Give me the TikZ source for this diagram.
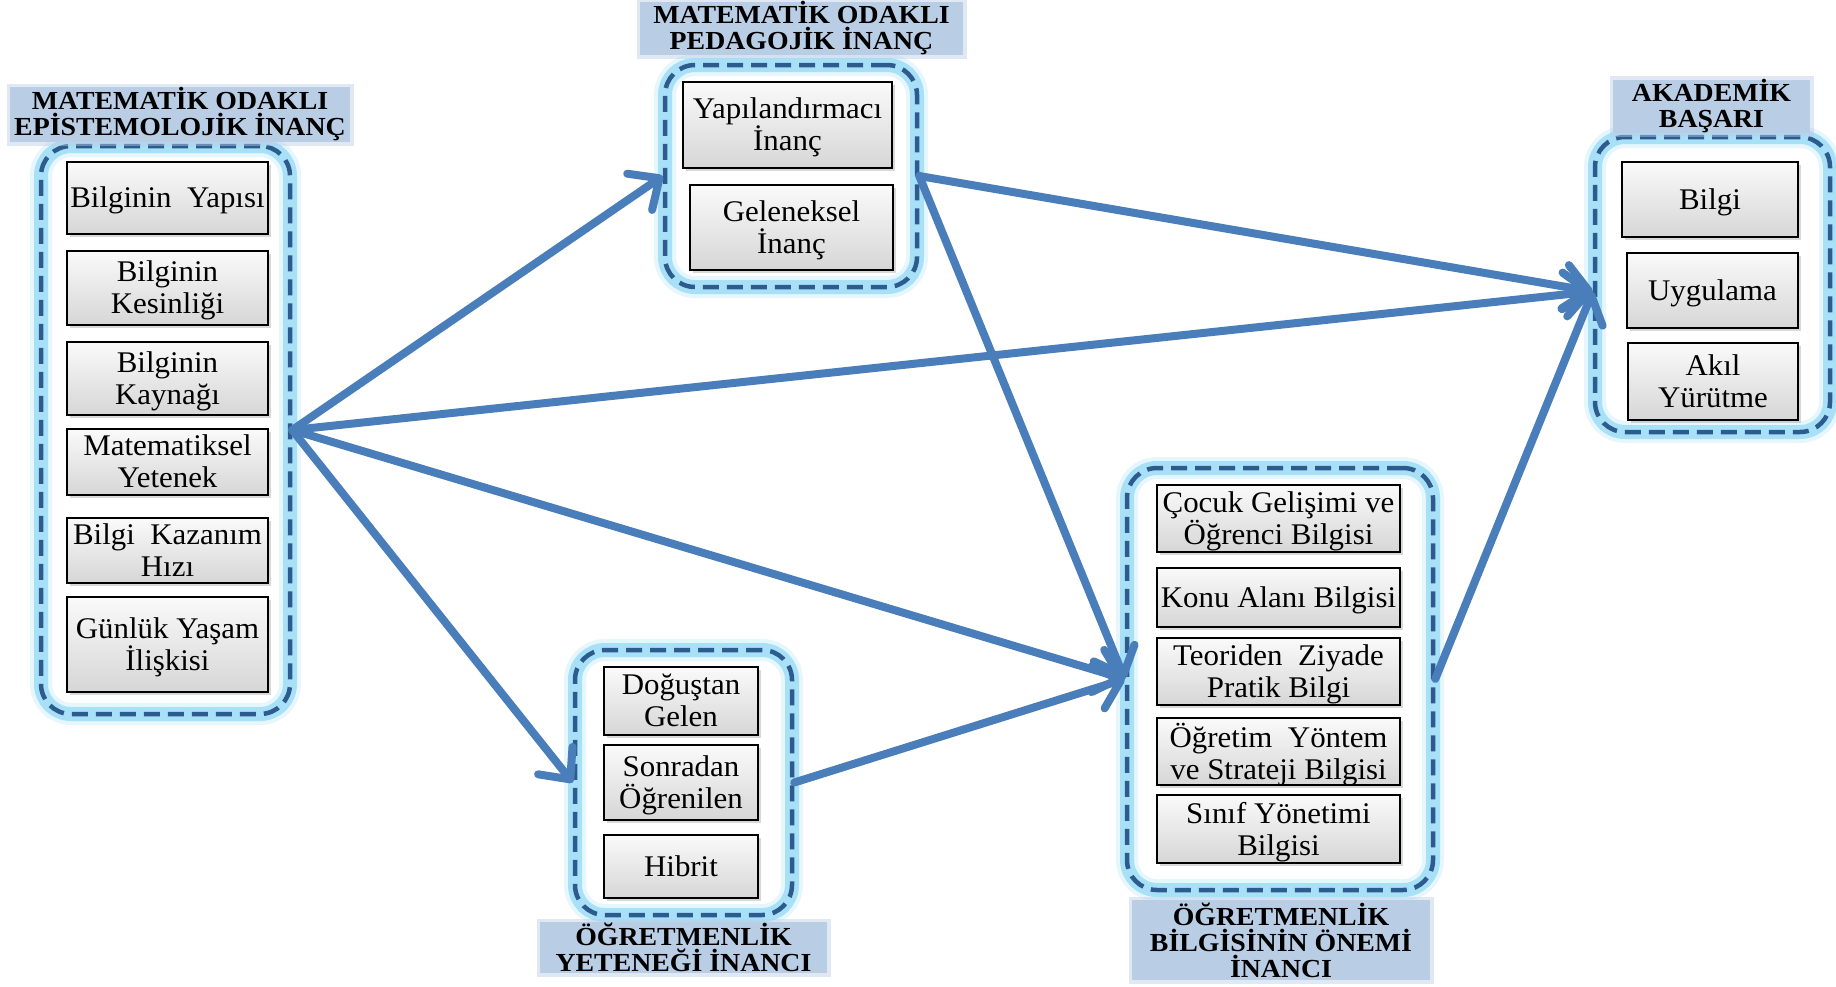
\documentclass[tikz,border=0pt]{standalone}
\usepackage{fontspec}
\setmainfont{Liberation Serif}[FakeStretch=1.03]
\newfontfamily\headfont{Liberation Serif}[FakeStretch=1.07]
\usetikzlibrary{arrows.meta,shadows,calc}
\definecolor{flowblue}{HTML}{4A7EBB}
\definecolor{dashblue}{HTML}{2E5B8E}
\definecolor{glowcyan}{HTML}{80D2F6}
\definecolor{headbg}{HTML}{B9CDE5}

\begin{document}
\begin{tikzpicture}[x=1pt,y=-1pt,
  group/.style={draw=dashblue, line width=4.5pt, dash pattern=on 16pt off 8pt,
    rounded corners=30pt, inner sep=0pt,
    preaction={draw=glowcyan, solid, line width=22pt, opacity=.2},
    preaction={draw=glowcyan, solid, line width=14pt, opacity=.6}},
  item/.style={draw=black, line width=1.8pt, top color=gray!4, bottom color=gray!32,
    align=center, inner sep=1pt, text depth=1pt, font=\fontsize{30}{32}\selectfont,
    drop shadow={shadow xshift=3pt, shadow yshift=-3pt, opacity=.3}},
  head/.style={fill=headbg, inner sep=0pt, align=center,
    font=\headfont\bfseries\fontsize{26}{26}\selectfont,
    preaction={draw=headbg, line width=7pt, opacity=.45}},
  flow/.style={draw=flowblue, line width=8pt, line cap=round,
    -{Straight Barb[length=24pt,width=44pt,round]}}]

\fill[white] (0,0) rectangle (1836,986);
\useasboundingbox (0,0) rectangle (1836,986);

% group frames
\node[group, minimum width=249, minimum height=568] (G1) at (165.5,430) {};
\node[group, minimum width=252, minimum height=222] (G2) at (791,176) {};
\node[group, minimum width=235, minimum height=295] (G3) at (1712.5,284.5) {};
\node[group, minimum width=306, minimum height=422] (G4) at (1280,679) {};
\node[group, minimum width=217, minimum height=265] (G5) at (683.5,782.5) {};

% group headings
\node[head, minimum width=340, minimum height=55] (T1) at (180,114.5)
  {MATEMATİK ODAKLI\\EPİSTEMOLOJİK İNANÇ};
\node[head, minimum width=323, minimum height=49] (T2) at (801.5,28.5)
  {MATEMATİK ODAKLI\\PEDAGOJİK İNANÇ};
\node[head, minimum width=197, minimum height=47] (T3) at (1711.5,106.5)
  {AKADEMİK\\BAŞARI};
\node[head, minimum width=298, minimum height=80] (T4) at (1281,940)
  {ÖĞRETMENLİK\\BİLGİSİNİN ÖNEMİ\\İNANCI};
\node[head, minimum width=287, minimum height=51] (T5) at (683.5,947.5)
  {ÖĞRETMENLİK\\YETENEĞİ İNANCI};

% connectors
\coordinate (G3in) at ([yshift=-7pt]G3.west);
\draw[flow] (G1.east) -- (G2.west);
\draw[flow] (G1.east) -- (G3in);
\draw[flow] (G1.east) -- (G4.west);
\draw[flow] (G1.east) -- (G5.west);
\draw[flow] (G2.east) -- (G3in);
\draw[flow] (G2.east) -- (G4.west);
\draw[flow] (G5.east) -- (G4.west);
\draw[flow] (G4.east) -- (G3in);

% epistemological belief items
\node[item, minimum width=201, minimum height=72] (b11) at (167.5,198) {Bilginin~ Yapısı};
\node[item, minimum width=201, minimum height=74] (b12) at (167.5,288) {Bilginin\\Kesinliği};
\node[item, minimum width=201, minimum height=73] (b13) at (167.5,378.5) {Bilginin\\Kaynağı};
\node[item, minimum width=201, minimum height=66] (b14) at (167.5,462) {Matematiksel\\Yetenek};
\node[item, minimum width=201, minimum height=65] (b15) at (167.5,550.5) {Bilgi~ Kazanım\\Hızı};
\node[item, minimum width=201, minimum height=95] (b16) at (167.5,644.5) {Günlük Yaşam\\İlişkisi};

% pedagogical belief items
\node[item, minimum width=209, minimum height=86] (b21) at (787.5,125) {Yapılandırmacı\\İnanç};
\node[item, minimum width=203, minimum height=85] (b22) at (791.5,227.5) {Geleneksel\\İnanç};

% academic achievement items
\node[item, minimum width=176, minimum height=75] (b31) at (1710,199.5) {Bilgi};
\node[item, minimum width=171, minimum height=75] (b32) at (1712.5,290.5) {Uygulama};
\node[item, minimum width=170, minimum height=77] (b33) at (1713,381.5) {Akıl\\Yürütme};

% teaching knowledge items
\node[item, minimum width=243, minimum height=67] (b41) at (1278.5,518.5) {Çocuk Gelişimi ve\\Öğrenci Bilgisi};
\node[item, minimum width=243, minimum height=59] (b42) at (1278.5,597.5) {Konu Alanı Bilgisi};
\node[item, minimum width=243, minimum height=67] (b43) at (1278.5,671.5) {Teoriden~ Ziyade\\Pratik Bilgi};
\node[item, minimum width=243, minimum height=67] (b44) at (1278.5,751.5) {Öğretim~ Yöntem\\ve Strateji Bilgisi};
\node[item, minimum width=243, minimum height=68] (b45) at (1278.5,829) {Sınıf Yönetimi\\Bilgisi};

% teaching ability items
\node[item, minimum width=154, minimum height=68] (b51) at (681,701) {Doğuştan\\Gelen};
\node[item, minimum width=154, minimum height=75] (b52) at (681,782.5) {Sonradan\\Öğrenilen};
\node[item, minimum width=154, minimum height=63] (b53) at (681,866.5) {Hibrit};
\end{tikzpicture}
\end{document}
